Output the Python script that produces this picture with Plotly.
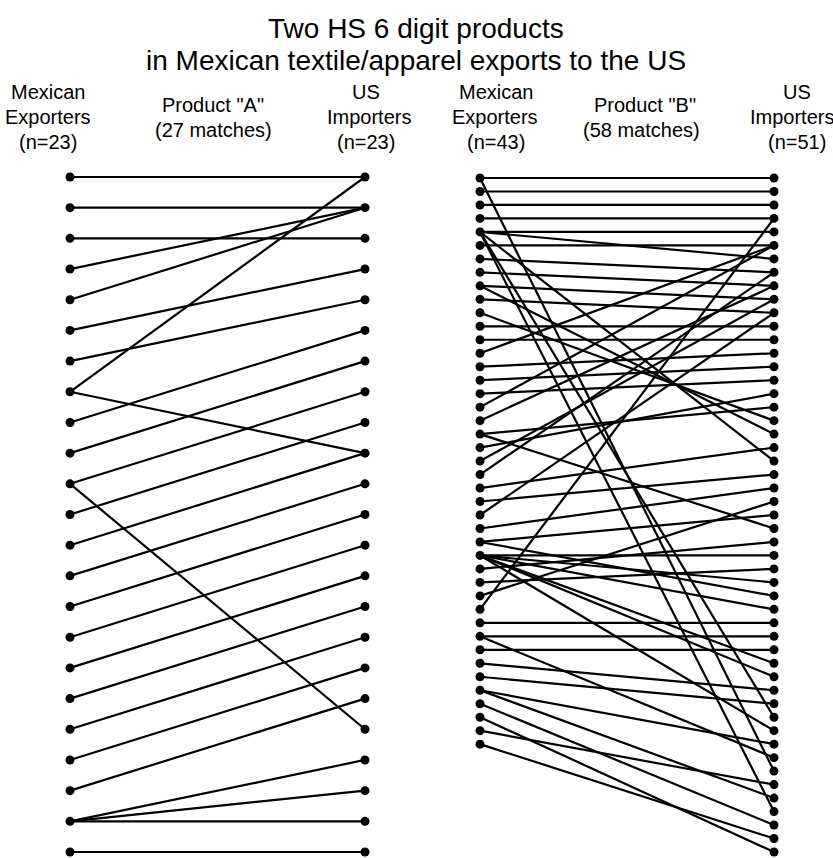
import plotly.graph_objects as go

# ---- Product "A": 23 Mexican exporters, 23 US importers, 27 matches ----
a_exporter = [1, 2, 3, 4, 5, 6, 7, 8, 8, 9, 10, 11, 11, 12, 13, 14, 15, 16, 17, 18,
              19, 20, 21, 22, 22, 22, 23]
a_importer = [1, 2, 3, 2, 2, 4, 5, 1, 10, 6, 7, 8, 19, 9, 10, 11, 12, 13, 14, 15,
              16, 17, 18, 20, 21, 22, 23]
a_n_exp, a_n_imp = 23, 23

# ---- Product "B": 43 Mexican exporters, 51 US importers, 58 matches ----
b_exporter = [1, 1, 2, 3, 4, 5, 5, 5, 5, 5, 6, 7, 8, 9, 9, 10, 11, 12, 13, 14,
              15, 16, 17, 18, 19, 20, 20, 21, 22, 23, 24, 25, 26, 27, 28, 28, 29, 29, 29, 29,
              29, 29, 30, 31, 32, 33, 34, 35, 35, 36, 37, 38, 39, 39, 40, 41, 42, 43]
b_importer = [1, 45, 2, 3, 4, 5, 7, 22, 41, 48, 6, 8, 9, 10, 20, 11, 19, 12, 13, 6,
              14, 15, 16, 6, 9, 18, 27, 17, 10, 8, 21, 23, 11, 24, 26, 32, 29, 31, 33, 37,
              38, 42, 28, 30, 25, 4, 34, 35, 44, 36, 39, 40, 43, 47, 49, 51, 46, 50]
b_n_exp, b_n_imp = 43, 51

W, H = 833, 858
FONT = "Liberation Sans, Helvetica, Arial, sans-serif"


def column_y(n, top, step):
    return [top + step * k for k in range(n)]


def add_panel(fig, exp, imp, n_exp, n_imp, x_left, x_right, top, step):
    ey = column_y(n_exp, top, step)
    iy = column_y(n_imp, top, step)
    xs, ys = [], []
    for e, i in zip(exp, imp):
        xs += [x_left, x_right, None]
        ys += [ey[e - 1], iy[i - 1], None]
    fig.add_trace(go.Scatter(x=xs, y=ys, mode="lines",
                             line=dict(color="black", width=2.2),
                             hoverinfo="skip", showlegend=False))
    fig.add_trace(go.Scatter(x=[x_left] * n_exp + [x_right] * n_imp, y=ey + iy,
                             mode="markers", marker=dict(color="black", size=9),
                             hoverinfo="skip", showlegend=False))


fig = go.Figure()
add_panel(fig, a_exporter, a_importer, a_n_exp, a_n_imp, 70, 365, 177, (852 - 177) / 22)
add_panel(fig, b_exporter, b_importer, b_n_exp, b_n_imp, 480, 774, 178, (852 - 178) / 50)

# Titles and column headers
texts = [
    ("Two HS 6 digit products", 416, 28, 28),
    ("in Mexican textile/apparel exports to the US", 416, 60, 28),
    ("Mexican", 48, 92, 20), ("Exporters", 48, 117, 20), ("(n=23)", 48, 142, 20),
    ("Product \"A\"", 213, 105, 20), ("(27 matches)", 213, 130, 20),
    ("US", 366, 92, 20), ("Importers", 369, 117, 20), ("(n=23)", 366, 142, 20),
    ("Mexican", 496, 92, 20), ("Exporters", 495, 117, 20), ("(n=43)", 496, 142, 20),
    ("Product \"B\"", 645, 105, 20), ("(58 matches)", 641, 130, 20),
    ("US", 797, 92, 20), ("Importers", 792, 117, 20), ("(n=51)", 797, 142, 20),
]
for t, x, y, s in texts:
    fig.add_annotation(x=x, y=y, text=t, showarrow=False, xanchor="center", yanchor="middle",
                       font=dict(family=FONT, size=s, color="black"))

fig.update_layout(
    width=W, height=H, margin=dict(l=0, r=0, t=0, b=0),
    paper_bgcolor="white", plot_bgcolor="white",
    xaxis=dict(range=[0, W], visible=False, fixedrange=True),
    yaxis=dict(range=[H, 0], visible=False, fixedrange=True),
)
fig.write_html("out.html")
